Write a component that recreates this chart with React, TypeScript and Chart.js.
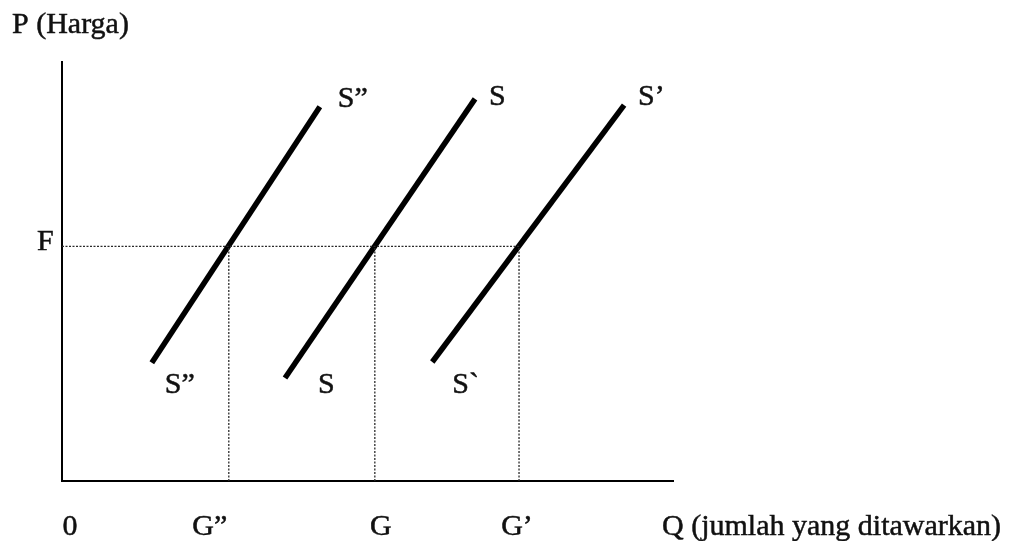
import React, { useEffect, useRef } from "react";
import { Chart, registerables } from "chart.js";

Chart.register(...registerables);

// Price level F and the quantities supplied at that price on each curve
const priceF = 56;
const qtyTickLabels = ["0", "G\u201D", "G", "G\u2019"];
const qtyTickValues = [0, 27.3, 51.2, 74.8];

// Supply curves S'', S, S' (lower and upper end points)
const supplyTopNames = ["S\u201D", "S", "S\u2019"];
const supplyBottomNames = ["S\u201D", "S", "S`"];
const supplyQtyLow = [14.7, 36.5, 60.6];
const supplyPriceLow = [28.2, 24.6, 28.4];
const supplyQtyHigh = [42.2, 67.6, 92.0];
const supplyPriceHigh = [89.3, 91.2, 89.7];

const axisTitleX = "Q (jumlah yang ditawarkan)";
const axisTitleY = "P (Harga)";
const priceLabel = "F";

const FONT = '30px "Liberation Serif", "Times New Roman", serif';
const INK = "#111";

// pixel offsets of each curve's text relative to its end points
const topLabelOffsets = [
  [18, 0],
  [14, 6],
  [14, 0],
];
const bottomLabelOffsets = [
  [13, 30],
  [33, 15],
  [20, 31],
];
const tickLabelOffsets = [8, -19, 6, -2];

function inkText(ctx: CanvasRenderingContext2D, text: string, x: number, y: number) {
  ctx.fillText(text, x, y);
  ctx.strokeText(text, x, y);
}

const labelPlugin = {
  id: "supplyLabels",
  afterDatasetsDraw(chart: any) {
    const { ctx, scales, chartArea } = chart;
    const xs = scales.x;
    const ys = scales.y;
    ctx.save();
    ctx.font = FONT;
    ctx.fillStyle = INK;
    ctx.strokeStyle = INK;
    ctx.lineWidth = 0.5;
    ctx.textBaseline = "alphabetic";

    // curve names at both ends
    ctx.textAlign = "left";
    for (let i = 0; i < supplyTopNames.length; i++) {
      const tx = xs.getPixelForValue(supplyQtyHigh[i]);
      const ty = ys.getPixelForValue(supplyPriceHigh[i]);
      inkText(ctx, supplyTopNames[i], tx + topLabelOffsets[i][0], ty + topLabelOffsets[i][1]);
      const bx = xs.getPixelForValue(supplyQtyLow[i]);
      const by = ys.getPixelForValue(supplyPriceLow[i]);
      inkText(ctx, supplyBottomNames[i], bx + bottomLabelOffsets[i][0], by + bottomLabelOffsets[i][1]);
    }

    // quantity labels under the axis
    ctx.textAlign = "center";
    const baseY = chartArea.bottom + 54;
    for (let i = 0; i < qtyTickLabels.length; i++) {
      const px = xs.getPixelForValue(qtyTickValues[i]) + tickLabelOffsets[i];
      inkText(ctx, qtyTickLabels[i], px, baseY);
    }
    ctx.textAlign = "left";
    inkText(ctx, axisTitleX, chartArea.right - 11, baseY);

    // price labels
    inkText(ctx, priceLabel, chartArea.left - 25, ys.getPixelForValue(priceF) + 4);
    inkText(ctx, axisTitleY, 12, 33);
    ctx.restore();
  },
};

export default function App() {
  const canvasRef = useRef<HTMLCanvasElement | null>(null);

  useEffect(() => {
    if (!canvasRef.current) return;

    const dotted = {
      borderColor: "#2a2a2a",
      borderWidth: 1.3,
      borderDash: [2, 1.5],
      pointRadius: 0,
      showLine: true,
      fill: false,
    };

    const guideSets = [
      {
        ...dotted,
        data: [
          { x: 0, y: priceF },
          { x: qtyTickValues[3], y: priceF },
        ],
      },
      ...qtyTickValues.slice(1).map((q) => ({
        ...dotted,
        data: [
          { x: q, y: 0 },
          { x: q, y: priceF },
        ],
      })),
    ];

    const curveSets = supplyTopNames.map((_, i) => ({
      borderColor: "#000",
      borderWidth: 5.5,
      borderCapStyle: "butt" as const,
      pointRadius: 0,
      showLine: true,
      fill: false,
      data: [
        { x: supplyQtyLow[i], y: supplyPriceLow[i] },
        { x: supplyQtyHigh[i], y: supplyPriceHigh[i] },
      ],
    }));

    const chart = new Chart(canvasRef.current, {
      type: "scatter",
      data: { datasets: [...guideSets, ...curveSets] as any },
      options: {
        animation: false,
        responsive: true,
        maintainAspectRatio: false,
        layout: { padding: { left: 62, top: 62, right: 353, bottom: 60 } },
        plugins: { legend: { display: false }, tooltip: { enabled: false } },
        scales: {
          x: {
            type: "linear",
            min: 0,
            max: 100,
            ticks: { display: false },
            grid: { display: false, drawTicks: false },
            border: { display: true, color: "#000", width: 2 },
          },
          y: {
            type: "linear",
            min: 0,
            max: 100,
            ticks: { display: false },
            grid: { display: false, drawTicks: false },
            border: { display: true, color: "#000", width: 2 },
          },
        },
      },
      plugins: [labelPlugin],
    });

    return () => chart.destroy();
  }, []);

  return (
    <div
      style={{
        position: "absolute",
        left: 0,
        top: 0,
        width: 1026,
        height: 541,
        background: "#fff",
      }}
    >
      <canvas ref={canvasRef} />
    </div>
  );
}
